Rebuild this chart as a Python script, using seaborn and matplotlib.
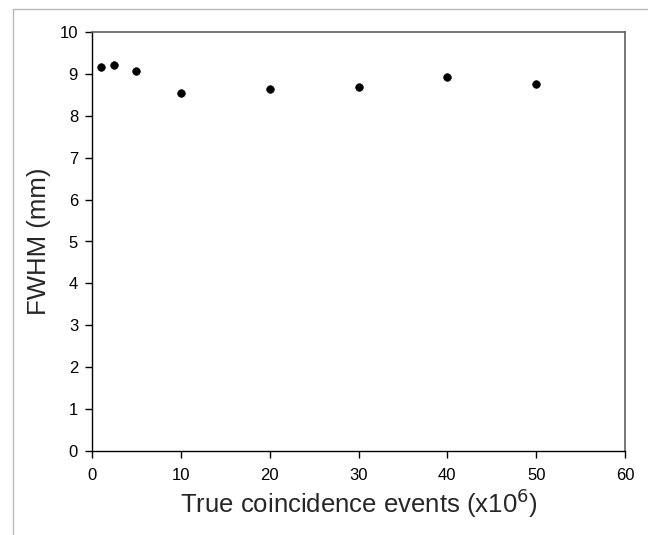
import matplotlib
matplotlib.use("Agg")
import matplotlib.pyplot as plt
from matplotlib.lines import Line2D
import pandas as pd
import seaborn as sns

# values
events = [1, 2.5, 5, 10, 20, 30, 40, 50]          # true coincidence events (x10^6)
fwhm = [9.17, 9.22, 9.07, 8.55, 8.63, 8.68, 8.93, 8.75]  # FWHM (mm)
x_ticks = [0, 10, 20, 30, 40, 50, 60]
y_ticks = [0, 1, 2, 3, 4, 5, 6, 7, 8, 9, 10]

df = pd.DataFrame({"events": events, "fwhm": fwhm})

sns.set_theme(style="white")
plt.rcParams["font.family"] = ["Liberation Sans", "DejaVu Sans"]

fig = plt.figure(figsize=(6.48, 5.35), dpi=100)
ax = fig.add_axes([92 / 648, 1 - 451 / 535, (625 - 92) / 648, (451 - 32) / 535])

sns.scatterplot(data=df, x="events", y="fwhm", ax=ax, color="black",
                s=30, edgecolor="black", linewidth=0.5, legend=False)

ax.set_xlim(0, 60)
ax.set_ylim(0, 10)
ax.set_xticks(x_ticks)
ax.set_yticks(y_ticks)
ax.tick_params(axis="both", direction="out", length=5, width=1,
               colors="black", labelsize=12, bottom=True, left=True)
ax.tick_params(axis="x", pad=7)
ax.tick_params(axis="y", pad=5)

for side in ["left", "bottom"]:
    ax.spines[side].set_color("black")
    ax.spines[side].set_linewidth(1.0)
for side in ["top", "right"]:
    ax.spines[side].set_color("#606060")
    ax.spines[side].set_linewidth(1.2)

ax.set_xlabel("True coincidence events (x10$^{6}$)", fontsize=18.5, labelpad=3)
ax.set_ylabel("FWHM (mm)", fontsize=18.5, labelpad=6)

# light frame at top and left of the figure
fig.add_artist(Line2D([13 / 648, 1], [1 - 9 / 535, 1 - 9 / 535],
                      transform=fig.transFigure, color="#b8b8b8", lw=1))
fig.add_artist(Line2D([13 / 648, 13 / 648], [0, 1 - 9 / 535],
                      transform=fig.transFigure, color="#b8b8b8", lw=1))

fig.savefig("out.png", dpi=100)
